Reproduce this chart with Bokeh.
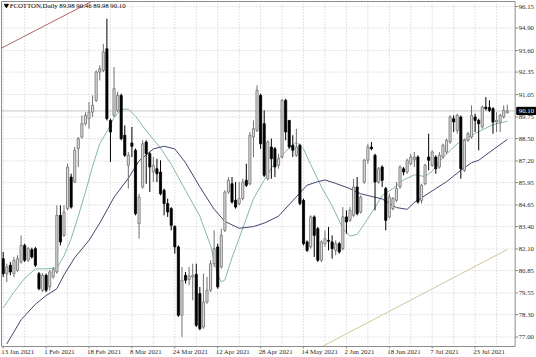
from bokeh.plotting import figure
from bokeh.models import Range1d
from bokeh.core.properties import value
from bokeh.embed import file_html
from bokeh.resources import INLINE

# ---------------- data ----------------
opens = [81.54, 80.67, 81.16, 80.67, 80.87, 81.35, 82.31, 81.45, 82.06, 82.12,
         80.67, 79.71, 80.58, 79.90, 80.48, 80.77, 84.05, 82.89, 84.44, 86.27,
         85.98, 87.91, 88.59, 89.36, 89.65, 90.03, 90.71, 92.35, 92.45, 93.70,
         89.55, 89.84, 90.13, 91.00, 88.69, 86.95, 88.24, 87.82, 83.57, 85.69,
         88.30, 87.62, 86.56, 86.75, 86.56, 85.50, 84.73, 84.44, 83.41, 82.22,
         78.26, 80.58, 80.33, 80.48, 80.63, 79.52, 77.58, 79.03, 79.71, 81.25,
         82.22, 81.06, 83.18, 85.40, 85.88, 84.92, 84.73, 85.02, 86.08, 85.88,
         88.59, 88.97, 91.00, 89.36, 86.17, 88.01, 87.91, 86.95, 87.43, 90.71,
         89.55, 88.11, 87.53, 88.11, 84.92, 82.51, 82.22, 83.96, 83.28, 81.45,
         82.41, 82.60, 82.51, 82.02, 82.41, 82.12, 83.96, 83.76, 84.05, 85.69,
         84.24, 85.98, 87.24, 88.01, 87.53, 85.98, 86.85, 85.60, 83.96, 84.44,
         84.92, 85.69, 86.75, 86.56, 87.04, 87.27, 87.43, 84.92, 85.88, 87.43,
         86.95, 87.43, 86.85, 87.43, 87.72, 88.30, 89.65, 88.97, 89.75, 86.66,
         88.40, 88.59, 89.75, 89.55, 89.17, 90.32, 90.30, 90.23, 89.46, 89.46,
         89.75, 89.98]
highs = [81.93, 81.25, 81.35, 81.64, 81.74, 82.89, 82.41, 82.22, 82.18, 82.22,
         80.77, 80.71, 80.67, 80.90, 81.06, 84.63, 84.63, 84.63, 87.04, 86.46,
         88.01, 88.59, 89.84, 90.03, 90.61, 91.00, 92.45, 92.74, 93.99, 95.44,
         89.65, 92.64, 91.20, 91.10, 89.26, 87.72, 89.17, 87.92, 85.30, 88.40,
         88.40, 87.72, 87.43, 87.33, 87.24, 85.60, 85.02, 84.53, 83.47, 82.31,
         81.06, 80.77, 81.06, 81.25, 81.25, 79.90, 80.67, 80.48, 81.45, 83.18,
         82.41, 83.28, 85.50, 86.27, 86.27, 85.98, 85.98, 86.17, 87.04, 88.88,
         89.55, 91.58, 91.10, 90.13, 88.40, 88.50, 88.01, 87.62, 90.80, 90.80,
         89.55, 88.69, 89.07, 88.20, 85.02, 82.60, 84.05, 84.05, 83.38, 82.60,
         83.18, 83.38, 82.89, 82.60, 82.51, 84.53, 84.34, 84.53, 86.17, 86.27,
         85.21, 87.33, 88.20, 88.30, 87.62, 86.85, 86.95, 85.70, 85.30, 85.11,
         85.98, 86.95, 86.85, 87.33, 87.62, 87.72, 87.53, 85.88, 87.04, 88.78,
         87.82, 87.53, 87.72, 88.20, 88.49, 89.84, 89.84, 89.94, 89.84, 88.49,
         88.88, 90.42, 89.94, 89.65, 90.42, 90.90, 90.71, 90.32, 90.03, 89.94,
         90.42, 90.46]
lows = [80.48, 80.19, 80.58, 80.48, 80.77, 81.25, 81.35, 81.35, 81.54, 81.06,
        79.71, 79.61, 79.61, 79.71, 80.38, 80.67, 82.31, 82.80, 84.34, 84.44,
        85.92, 86.85, 88.49, 89.26, 89.07, 89.75, 90.61, 91.87, 92.35, 89.55,
        87.14, 89.75, 90.03, 88.40, 87.43, 85.60, 87.43, 84.05, 82.70, 85.60,
        85.88, 85.40, 85.98, 85.98, 85.21, 84.05, 83.96, 83.18, 81.83, 78.16,
        77.00, 80.10, 80.00, 79.13, 77.58, 77.39, 77.48, 78.93, 79.61, 81.06,
        79.80, 80.96, 83.08, 85.30, 84.73, 84.44, 84.63, 84.92, 85.69, 85.79,
        87.43, 88.88, 87.90, 86.27, 86.08, 86.17, 86.27, 86.75, 87.33, 88.40,
        87.91, 87.43, 87.43, 84.63, 82.31, 81.93, 82.12, 81.64, 81.35, 81.35,
        82.22, 82.02, 81.54, 81.74, 81.83, 82.02, 82.99, 83.67, 83.96, 84.05,
        84.15, 85.88, 87.04, 87.82, 84.34, 85.88, 85.69, 83.18, 83.86, 84.34,
        84.82, 85.60, 86.37, 86.46, 86.95, 86.85, 84.73, 84.73, 85.79, 86.66,
        86.85, 86.46, 86.75, 87.33, 87.62, 88.20, 88.88, 88.78, 86.17, 86.56,
        88.30, 88.49, 88.88, 87.82, 89.07, 90.13, 90.03, 88.78, 88.88, 88.88,
        89.65, 89.98]
closes = [80.67, 81.06, 80.77, 81.45, 81.54, 82.31, 81.45, 82.12, 81.64, 81.16,
          79.80, 80.58, 79.71, 80.77, 80.90, 84.05, 82.51, 84.24, 86.85, 84.53,
          87.82, 88.49, 89.36, 89.84, 90.03, 90.42, 92.35, 92.54, 93.51, 89.65,
          88.88, 91.39, 91.00, 88.49, 87.53, 87.53, 88.05, 84.15, 85.11, 88.20,
          87.62, 86.85, 86.95, 86.46, 85.30, 84.73, 84.24, 83.47, 82.22, 78.26,
          80.29, 80.29, 80.52, 80.58, 77.68, 77.48, 79.03, 79.71, 81.25, 82.12,
          79.90, 82.89, 85.40, 86.08, 84.82, 84.53, 85.02, 85.98, 85.79, 88.69,
          89.07, 91.29, 88.20, 86.37, 88.30, 87.33, 86.85, 87.33, 90.71, 88.88,
          88.01, 87.82, 88.01, 84.73, 82.41, 82.02, 83.96, 82.89, 81.45, 82.51,
          82.70, 82.55, 82.12, 82.41, 81.93, 83.96, 83.67, 84.34, 85.69, 84.15,
          85.11, 87.24, 88.01, 87.91, 85.98, 86.75, 86.08, 83.76, 85.11, 85.02,
          85.60, 86.85, 86.56, 87.24, 87.43, 87.43, 84.82, 85.79, 86.95, 87.24,
          87.72, 86.75, 87.53, 88.11, 88.40, 89.75, 89.46, 89.84, 86.75, 88.40,
          88.78, 89.84, 89.55, 89.36, 90.32, 90.23, 90.13, 89.46, 89.55, 89.84,
          90.13, 90.10]

date_labels = ["13 Jan 2021", "1 Feb 2021", "18 Feb 2021", "8 Mar 2021",
               "24 Mar 2021", "12 Apr 2021", "28 Apr 2021", "14 May 2021",
               "2 Jun 2021", "18 Jun 2021", "7 Jul 2021", "23 Jul 2021"]
date_label_bars = [0, 12, 24, 36, 48, 60, 72, 84, 96, 108, 120, 132]
grid_bars = list(range(0, 142, 6))
price_ticks = [96.15, 94.90, 93.60, 92.35, 91.05, 89.75, 88.50, 87.20,
               85.95, 84.65, 83.40, 82.10, 80.85, 79.55, 78.30, 77.00]

ma_fast_bars = [0, 3, 6, 9, 12, 15, 17, 19, 21, 23, 25, 27, 29, 31, 33, 35, 37, 40,
                44, 47, 51, 55, 58, 60, 61, 62, 64, 67, 70, 73, 76, 79, 82, 84, 86,
                89, 92, 95, 97, 99, 101, 104, 106, 109, 112, 115, 118, 120, 123,
                127, 132, 137, 141]
ma_fast_vals = [78.7, 79.6, 80.4, 80.95, 80.95, 81.0, 81.7, 82.7, 84.0, 85.4, 86.9,
                88.2, 88.9, 89.7, 90.2, 90.2, 89.8, 88.95, 87.95, 87.0, 85.5, 84.0,
                82.3, 80.6, 80.2, 80.3, 81.6, 83.3, 85.0, 86.1, 87.1, 87.75, 88.3,
                87.9, 87.0, 85.7, 84.6, 83.3, 82.85, 82.95, 83.55, 84.5, 85.2, 85.6,
                86.1, 86.4, 86.3, 86.6, 87.4, 88.2, 88.8, 89.3, 89.5]
ma_slow_bars = [1, 5, 9, 12, 15, 17, 20, 24, 27, 31, 35, 38, 42, 45, 48, 51, 55, 59,
                62, 66, 70, 73, 77, 81, 85, 88, 90, 93, 97, 100, 104, 106, 110, 113,
                115, 118, 121, 124, 128, 131, 133, 137, 141]
ma_slow_vals = [76.6, 78.0, 78.9, 79.4, 79.8, 80.6, 81.6, 82.6, 83.6, 85.1, 86.2,
                87.2, 87.9, 88.05, 87.9, 87.1, 85.7, 84.4, 83.7, 83.3, 83.4, 83.6,
                84.0, 84.9, 85.8, 86.0, 86.1, 85.9, 85.6, 85.3, 85.1, 85.0, 84.5,
                84.4, 84.8, 85.2, 85.6, 86.0, 86.66, 87.1, 87.24, 87.85, 88.45]

trend_red_bars = [-0.48, 24.7]
trend_red_vals = [93.74, 96.44]
trend_olive_bars = [89.2, 141]
trend_olive_vals = [76.45, 82.07]

bid_price = 90.10
header_text = "FCOTTON,Daily 89.98 90.46 89.98 90.10"

# ---------------- layout constants (pixels -> data) ----------------
PX_X = 3.575          # px per bar
PX_Y = 17.26          # px per price unit
CH_L, CH_R = -0.48, 143.2      # chart area (bars)
CH_B, CH_T = 76.45, 96.44      # chart area (price)

FONT = "Liberation Sans Narrow"
FS = "6.8px"
TXT = "#2a2a2a"
FRAME = "#8c8c8c"
GRID = "#c9c9c9"

p = figure(width=536, height=357,
           x_range=Range1d(CH_L - 1 / PX_X, CH_L + 535 / PX_X),
           y_range=Range1d(CH_T - 356 / PX_Y, CH_T + 1 / PX_Y),
           x_axis_location=None, y_axis_location=None,
           output_backend="svg", toolbar_location=None,
           min_border=0, background_fill_color="white",
           border_fill_color="white", outline_line_color=None)
p.grid.visible = False

# grid (dotted)
p.segment(x0=[CH_L] * len(price_ticks), y0=price_ticks,
          x1=[CH_R] * len(price_ticks), y1=price_ticks,
          line_color=GRID, line_dash="1 2", line_width=1)
p.segment(x0=grid_bars, y0=[CH_B] * len(grid_bars),
          x1=grid_bars, y1=[CH_T] * len(grid_bars),
          line_color=GRID, line_dash="1 2", line_width=1)

# bid line
p.line(x=[CH_L, CH_R], y=[bid_price, bid_price], line_color="#c4c4c4", line_width=1)

# trend lines
p.line(x=trend_red_bars, y=trend_red_vals, line_color="#b0666c", line_width=1)
p.line(x=trend_olive_bars, y=trend_olive_vals, line_color="#cfc79e", line_width=1)

# moving averages
p.line(x=ma_fast_bars, y=ma_fast_vals, line_color="#86b8a8", line_width=1)
p.line(x=ma_slow_bars, y=ma_slow_vals, line_color="#45446f", line_width=1)

# candles
idx = list(range(len(opens)))
up = [c >= o for o, c in zip(opens, closes)]
tops = [max(o, c) for o, c in zip(opens, closes)]
bots = [min(o, c) for o, c in zip(opens, closes)]
wick_col = ["#707070" if u else "#000000" for u in up]
body_fill = ["#dcdcdc" if u else "#000000" for u in up]
body_line = ["#707070" if u else "#000000" for u in up]
p.segment(x0=idx, y0=lows, x1=idx, y1=highs, line_color=wick_col, line_width=1)
p.vbar(x=idx, width=0.6, top=tops, bottom=bots, fill_color=body_fill,
       line_color=body_line, line_width=0.8)

# chart frame
p.line(x=[CH_L, CH_R, CH_R, CH_L, CH_L], y=[CH_T, CH_T, CH_B, CH_B, CH_T],
       line_color=FRAME, line_width=1)

# price axis: ticks + labels
tick_len = 3 / PX_X
p.segment(x0=[CH_R] * len(price_ticks), y0=price_ticks,
          x1=[CH_R + tick_len] * len(price_ticks), y1=price_ticks,
          line_color=FRAME, line_width=1)
p.text(x=[CH_R + 3.5 / PX_X] * len(price_ticks), y=price_ticks,
       text=[f"{t:.2f}" for t in price_ticks], text_font=value(FONT),
       text_font_size=FS, text_color=TXT, text_align="left",
       text_baseline="middle")

# date axis: ticks + labels
p.segment(x0=date_label_bars, y0=[CH_B] * len(date_label_bars),
          x1=date_label_bars, y1=[CH_B - 2 / PX_Y] * len(date_label_bars),
          line_color=FRAME, line_width=1)
p.text(x=[b - 0.55 for b in date_label_bars], y=[CH_B - 4.5 / PX_Y] * len(date_labels),
       text=date_labels, text_font=value(FONT), text_font_size=FS,
       text_color=TXT, text_align="left", text_baseline="middle")

# header
p.scatter(x=[0.9], y=[CH_T - 4 / PX_Y], marker="inverted_triangle", size=4,
          fill_color="black", line_color="black")
p.text(x=[1.8], y=[CH_T - 4 / PX_Y], text=[header_text], text_font=value(FONT),
       text_font_size=FS, text_color="#000000", text_align="left",
       text_baseline="middle")

# bid price tag
p.quad(left=[CH_R + 0.45], right=[CH_R + 6.0], top=[bid_price + 3.6 / PX_Y],
       bottom=[bid_price - 3.6 / PX_Y], fill_color="black", line_color="black")
p.text(x=[CH_R + 1.0], y=[bid_price], text=[f"{bid_price:.2f}"],
       text_font=value(FONT), text_font_size=FS, text_color="white",
       text_align="left", text_baseline="middle")

open("out.html", "w").write(file_html(p, INLINE))
